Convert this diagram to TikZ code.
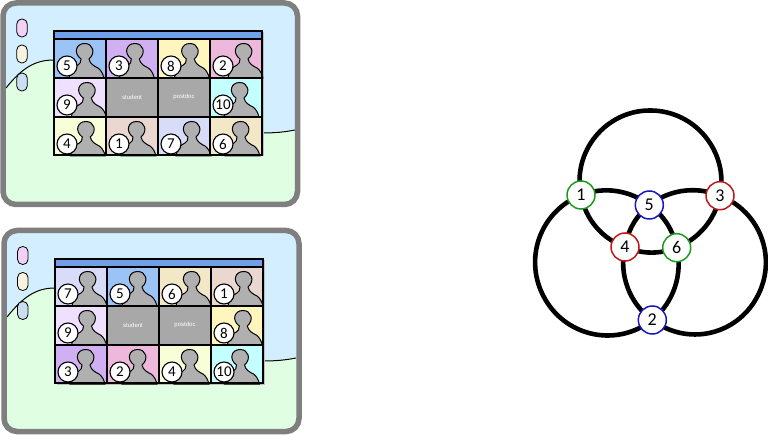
\documentclass[tikz,border=0pt]{standalone}
\usepackage{fontspec}
\usetikzlibrary{backgrounds}
\setmainfont{Carlito}
\newfontfamily\smallsans{Liberation Sans}
\definecolor{frameg}{HTML}{7F7F7F}
\definecolor{skyb}{HTML}{D2EEFF}
\definecolor{mint}{HTML}{E0FFE2}
\definecolor{headb}{HTML}{6FA0E8}
\definecolor{sil}{HTML}{B0B0B0}
\definecolor{cellg}{HTML}{A8A8A8}
\definecolor{cfive}{HTML}{9CC3F5}
\definecolor{cthree}{HTML}{D0B0F2}
\definecolor{ceight}{HTML}{FFF6BE}
\definecolor{ctwo}{HTML}{EEB8DC}
\definecolor{cnine}{HTML}{F0E0FF}
\definecolor{cten}{HTML}{C4FFFF}
\definecolor{cfour}{HTML}{F8FFD8}
\definecolor{cone}{HTML}{EAD7D0}
\definecolor{cseven}{HTML}{D9DCF8}
\definecolor{csix}{HTML}{F2E8C8}
\definecolor{pillp}{HTML}{F3D0F5}
\definecolor{pillc}{HTML}{F8F3DE}
\definecolor{pillb}{HTML}{C9DEF3}
\definecolor{gr}{HTML}{1E9B1E}
\definecolor{rd}{HTML}{C01818}
\definecolor{bl}{HTML}{1818C0}
\tikzset{
  outerframe/.style={draw=frameg,line width=5.5pt,rounded corners=13pt},
  badge/.style={circle,draw=black,line width=1.1pt,fill=white,minimum size=20pt,inner sep=0pt,font=\fontsize{15}{15}\selectfont},
  ringnode/.style={circle,draw=#1,fill=white,line width=1.5pt,minimum size=28pt,inner sep=0pt,font=\fontsize{18}{18}\selectfont},
  ring/.style={line width=4.6pt,black},
  seg/.style={bend left=#1,looseness=0.92},
  bigseg/.style={bend left=#1,looseness=1.04},
  pill/.style={draw=black,line width=0.8pt,fill=#1,rounded corners=5pt,minimum width=10.5pt,minimum height=18pt,inner sep=0pt},
  caption/.style={text=white,font=\smallsans\fontsize{6}{6}\selectfont,inner sep=0pt},
  gridline/.style={line width=1.4pt,black},
  curve/.style={line width=1pt,black}
}
% name, x, y(top), w, h, colour, number, person shift
\newcommand\personcell[8]{%
  \fill[#6] (#2,-#3) rectangle ++(#4,-#5);
  \begin{scope}[shift={(#2+#8,-#3)}]
    \draw[fill=sil,line width=1pt] (15,-39) .. controls (16,-33) and (19,-28) .. (24,-26)
      .. controls (26,-25) and (27,-23) .. (27,-20)
      .. controls (19,-14) and (22,-4.5) .. (30.7,-4.5)
      .. controls (39,-4.5) and (42,-14) .. (35,-20)
      .. controls (36,-25) and (40,-27) .. (44,-29)
      .. controls (47,-31) and (49,-35) .. (50,-39) -- cycle;
  \end{scope}
  \node[badge] (#1) at (#2+13,-#3-27) {#7};
}
\begin{document}
\begin{tikzpicture}[x=1pt,y=1pt]
\useasboundingbox (0,0) rectangle (768,-435);
% ---------- upper tablet
\begin{scope}
  \clip[rounded corners=13pt] (3,-3) rectangle (297.5,-204.5);
  \fill[skyb] (0,0) rectangle (300,-207);
  \fill[mint] (6,-88) .. controls (22,-68) and (35,-60) .. (54,-60) -- (262,-133) .. controls (275,-133) and (285,-132) .. (295,-130) -- (300,-130) -- (300,-207) -- (0,-207) -- (0,-88) -- cycle;
  \draw[curve] (6,-88) .. controls (22,-68) and (35,-60) .. (54,-60);
  \draw[curve] (262,-133) .. controls (275,-133) and (285,-132) .. (295,-130);
\end{scope}
\draw[outerframe] (3,-3) rectangle (297.5,-204.5);
\node[pill=pillp] (pa1) at (22,-28) {};
\node[pill=pillc] (pa2) at (22,-54) {};
\node[pill=pillb] (pa3) at (22,-82) {};
\fill[black!25] (55.5,-32) rectangle (263.5,-156.5);
\fill[headb] (54,-31) rectangle (262,-39);
\personcell{a5}{54}{39}{52}{39}{cfive}{5}{0}
\personcell{a3}{106}{39}{52}{39}{cthree}{3}{-1.7}
\personcell{a8}{158}{39}{52}{39}{ceight}{8}{1.3}
\personcell{a2}{210}{39}{52}{39}{ctwo}{2}{3}
\personcell{a9}{54}{78}{52}{39}{cnine}{9}{2.3}
\personcell{a10}{210}{78}{52}{39}{cten}{10}{-1}
\personcell{a4}{54}{117}{52}{38}{cfour}{4}{1.3}
\personcell{a1}{106}{117}{52}{38}{cone}{1}{0}
\personcell{a7}{158}{117}{52}{38}{cseven}{7}{3}
\personcell{a6}{210}{117}{52}{38}{csix}{6}{0}
\fill[cellg] (106,-78) rectangle (158,-117);
\fill[cellg] (158,-78) rectangle (210,-117);
\node[caption] (as) at (132,-97) {student};
\node[caption] (ap) at (184,-97) {postdoc};
\draw[gridline] (54,-31) rectangle (262,-155);
\draw[gridline] (54,-39) -- (262,-39) (54,-78) -- (262,-78) (54,-117) -- (262,-117);
\draw[gridline] (106,-39) -- (106,-155) (158,-39) -- (158,-155) (210,-39) -- (210,-155);
% ---------- lower tablet
\begin{scope}
  \clip[rounded corners=13pt] (4,-230.5) rectangle (299,-431.5);
  \fill[skyb] (0,-228) rectangle (302,-435);
  \fill[mint] (7,-317) .. controls (23,-297) and (36,-288) .. (55,-288) -- (263,-361) .. controls (276,-361) and (286,-360) .. (296,-358) -- (302,-358) -- (302,-435) -- (0,-435) -- (0,-317) -- cycle;
  \draw[curve] (7,-317) .. controls (23,-297) and (36,-288) .. (55,-288);
  \draw[curve] (263,-361) .. controls (276,-361) and (286,-360) .. (296,-358);
\end{scope}
\draw[outerframe] (4,-230.5) rectangle (299,-431.5);
\node[pill=pillp] (pb1) at (22.8,-255.5) {};
\node[pill=pillc] (pb2) at (22.8,-281.5) {};
\node[pill=pillb] (pb3) at (22.8,-310.5) {};
\fill[black!25] (56.5,-260) rectangle (264.5,-384.5);
\fill[headb] (55,-259) rectangle (263,-267);
\personcell{b7}{55}{267}{52}{39}{cseven}{7}{2}
\personcell{b5}{107}{267}{52}{39}{cfive}{5}{0}
\personcell{b6}{159}{267}{52}{39}{csix}{6}{2}
\personcell{b1}{211}{267}{52}{39}{cone}{1}{2}
\personcell{b9}{55}{306}{52}{39}{cnine}{9}{1.5}
\personcell{b8}{211}{306}{52}{39}{ceight}{8}{1.3}
\personcell{b3}{55}{345}{52}{38}{cthree}{3}{0}
\personcell{b2}{107}{345}{52}{38}{ctwo}{2}{0}
\personcell{b4}{159}{345}{52}{38}{cfour}{4}{0}
\personcell{b10}{211}{345}{52}{38}{cten}{10}{-1.5}
\fill[cellg] (107,-306) rectangle (159,-345);
\fill[cellg] (159,-306) rectangle (211,-345);
\node[caption] (bs) at (133,-325) {student};
\node[caption] (bp) at (185,-325) {postdoc};
\draw[gridline] (55,-259) rectangle (263,-383);
\draw[gridline] (55,-267) -- (263,-267) (55,-306) -- (263,-306) (55,-345) -- (263,-345);
\draw[gridline] (107,-267) -- (107,-383) (159,-267) -- (159,-383) (211,-267) -- (211,-383);
% ---------- graph
\node[ringnode=gr] (n1) at (581,-195) {1};
\node[ringnode=rd] (n3) at (720,-195.7) {3};
\node[ringnode=bl] (n5) at (649.3,-205) {5};
\node[ringnode=rd] (n4) at (625,-247) {4};
\node[ringnode=gr] (n6) at (676.7,-247.7) {6};
\node[ringnode=bl] (n2) at (652.3,-320) {2};
\coordinate (apexT) at (650,-110.5);
\coordinate (apexL) at (545,-299);
\coordinate (apexR) at (756.5,-298);
\begin{pgfonlayer}{background}
\draw[ring] (n1.center) to[bigseg=51] (apexT) to[bigseg=51] (n3.center);
\draw[ring] (n3.center) to[seg=28] (n6.center);
\draw[ring] (n6.center) to[seg=22] (n4.center);
\draw[ring] (n4.center) to[seg=30] (n1.center);
\draw[ring] (n1.center) to[seg=29] (n5.center);
\draw[ring] (n5.center) to[seg=21] (n6.center);
\draw[ring] (n6.center) to[seg=32] (n2.center);
\draw[ring] (n2.center) to[bigseg=49] (apexL) to[bigseg=49] (n1.center);
\draw[ring] (n5.center) to[seg=30] (n3.center);
\draw[ring] (n3.center) to[bigseg=49] (apexR) to[bigseg=49] (n2.center);
\draw[ring] (n2.center) to[seg=34] (n4.center);
\draw[ring] (n4.center) to[seg=20] (n5.center);
\end{pgfonlayer}
\end{tikzpicture}
\end{document}
